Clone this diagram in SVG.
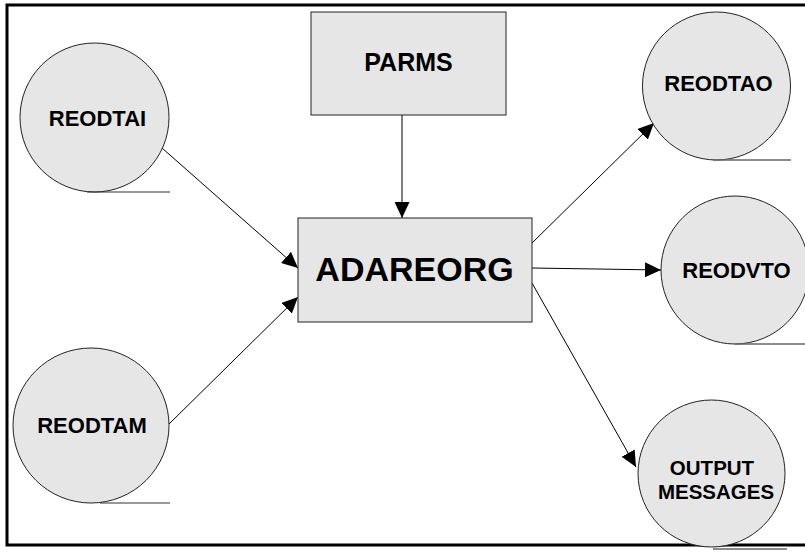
<svg xmlns="http://www.w3.org/2000/svg" width="805" height="555" viewBox="0 0 805 555">
<style>
.node{fill:#e6e6e6;stroke:#222;stroke-width:1}
.lbl{font-family:"Liberation Sans",Arial,sans-serif;font-weight:bold;fill:#000;text-anchor:middle}
.ul{stroke:#333;stroke-width:1.2}
.ul2{stroke:#666;stroke-width:1.5}
.conn{stroke:#000;stroke-width:1;fill:none;marker-end:url(#ah)}
</style>
<defs>
<marker id="ah" markerUnits="userSpaceOnUse" markerWidth="17" markerHeight="15" refX="16" refY="7.5" orient="auto">
<path d="M0,0 L16,7.5 L0,15 Z" fill="#000"/>
</marker>
</defs>
<rect x="0" y="0" width="805" height="555" fill="#fff"/>
<rect x="7" y="5" width="805" height="540" fill="none" stroke="#000" stroke-width="3"/>
<g id="connectors">
<line class="conn" x1="402" y1="115" x2="402" y2="218"/>
<line class="conn" x1="162" y1="148" x2="298" y2="268"/>
<line class="conn" x1="168" y1="425" x2="298" y2="297"/>
<line class="conn" x1="532" y1="243" x2="654" y2="123"/>
<line class="conn" x1="532" y1="268" x2="661" y2="270"/>
<line class="conn" x1="532" y1="283" x2="636" y2="467"/>
</g>
<g id="PARMS">
<rect class="node" x="311" y="12" width="195" height="103"/>
<text class="lbl" x="408.5" y="71" font-size="25">PARMS</text>
</g>
<g id="ADAREORG">
<rect class="node" x="298" y="218" width="234" height="104"/>
<text class="lbl" x="414.5" y="281" font-size="34">ADAREORG</text>
</g>
<g id="REODTAI">
<circle class="node" cx="94.5" cy="117.5" r="74.5"/>
<line class="ul" x1="87" y1="192" x2="170" y2="192"/>
<text class="lbl" x="97.5" y="126" font-size="22">REODTAI</text>
</g>
<g id="REODTAM">
<ellipse class="node" cx="91" cy="425.5" rx="78" ry="77.5"/>
<line class="ul" x1="100" y1="503" x2="170" y2="503"/>
<text class="lbl" x="92" y="433" font-size="22">REODTAM</text>
</g>
<g id="REODTAO">
<circle class="node" cx="716.5" cy="86" r="74"/>
<line class="ul2" x1="713" y1="160" x2="791" y2="160"/>
<text class="lbl" x="718.5" y="91" font-size="22">REODTAO</text>
</g>
<g id="REODVTO">
<circle class="node" cx="735" cy="270" r="74"/>
<line class="ul2" x1="735" y1="344" x2="805" y2="344"/>
<text class="lbl" x="736.5" y="278" font-size="22">REODVTO</text>
</g>
<g id="OUTPUT_MESSAGES">
<circle class="node" cx="711.5" cy="473.5" r="73.5"/>
<line class="ul2" x1="713" y1="549" x2="787" y2="549"/>
<text class="lbl" x="712" y="475" font-size="20.5">OUTPUT</text>
<text class="lbl" x="716" y="499" font-size="20.5">MESSAGES</text>
</g>
</svg>
